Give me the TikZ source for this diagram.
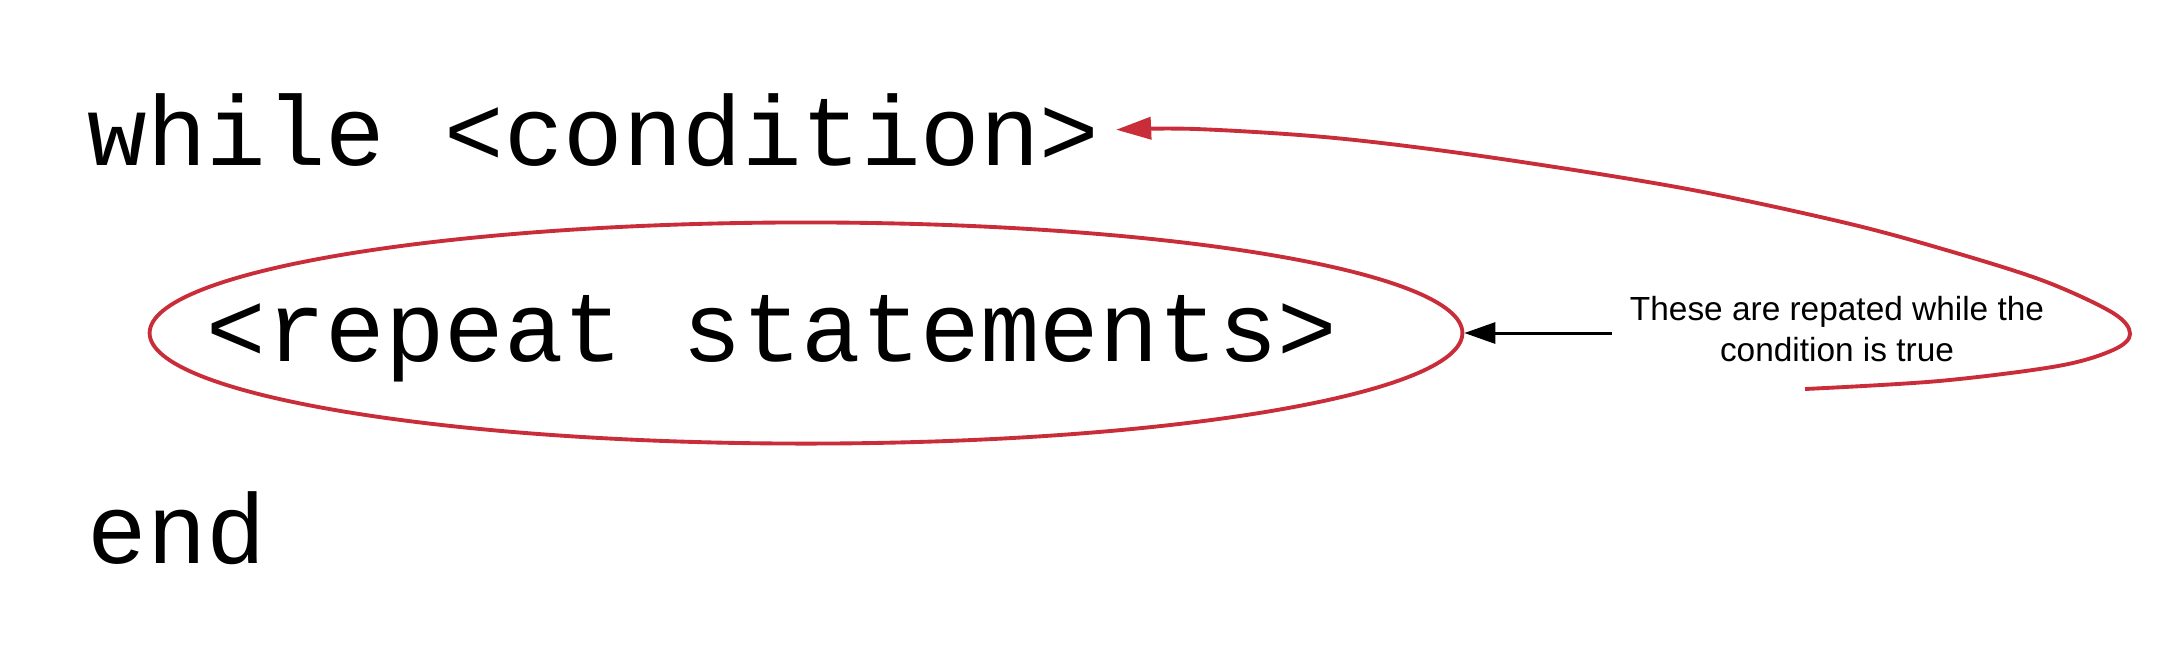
\documentclass[tikz,border=0pt]{standalone}
\usepackage{fontspec}
\setmainfont{Liberation Sans}
\setsansfont{Liberation Sans}
\setmonofont{Liberation Mono}
\usetikzlibrary{arrows.meta,shapes.geometric}
\definecolor{loopred}{RGB}{201,45,57}
\begin{document}
\begin{tikzpicture}[x=0.01cm,y=-0.01cm,
    code/.style={inner sep=0pt,anchor=base west,font=\fontsize{28.2}{34}\selectfont\ttfamily},
    loopline/.style={draw=loopred,line width=1.1pt,-{Triangle[length=0.35cm,width=0.22cm]}},
    noteline/.style={draw=black,line width=0.85pt,-{Triangle[length=0.31cm,width=0.21cm]}}]
            \useasboundingbox (0,0) rectangle (2180,669);
            \node[code] (whileline) at (87,165) {while <condition>};
            \node[code] (repeatline) at (206,361) {<repeat statements>};
            \node[code] (endline) at (87,563) {end};
            \node[ellipse,draw=loopred,line width=1.1pt,minimum width=13.12cm,minimum height=2.21cm,inner sep=0pt] (loopbody) at (806,333) {};
            \node[align=center,inner xsep=0.17cm,inner ysep=0pt,font=\fontsize{9.5}{11.6}\selectfont] (note) at (1837,329) {These are repated while the\\condition is true};
            \draw[noteline] (note.west |- loopbody.east) -- (loopbody.east);
            \coordinate (loopstart) at (1805,389);
            \coordinate (looptip) at ([xshift=0.16cm]whileline.east);
            \draw[loopline] plot[smooth,tension=0.55] coordinates {(loopstart) (1939,381) (2058,366) (2113,350) (2130,334) (2113,313) (2044,281) (1946,250) (1842,222) (1682,188) (1488,157) (1335,138) (1196,129) (looptip)};
        \end{tikzpicture}
\end{document}
